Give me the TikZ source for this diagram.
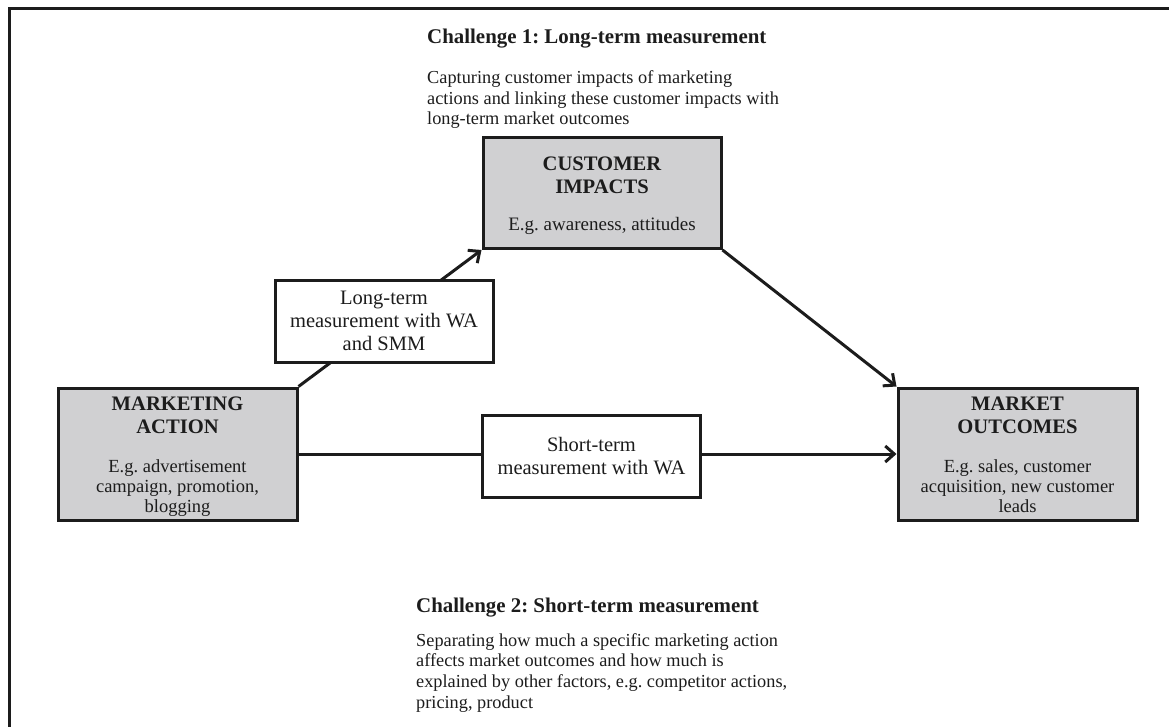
\documentclass[tikz,border=0pt]{standalone}
\usepackage{fontspec}
\setmainfont{Liberation Serif}
\usetikzlibrary{arrows.meta}
\definecolor{boxgray}{RGB}{208,208,210}
\definecolor{inkgray}{RGB}{28,28,28}
\frenchspacing
% bold title line inside a grey box
\newcommand\boxtitle[1]{{\fontsize{20.6}{20.6}\selectfont\bfseries #1}}
% invisible struts to fix the height of the first / depth of the last line
\newcommand\topstrut[1]{\rule{0pt}{#1}}
\newcommand\botstrut{\rule[-4pt]{0pt}{4pt}}
\begin{document}
\begin{tikzpicture}[x=1pt,y=-1pt,
  frameline/.style={line width=3pt, draw=inkgray},
  keybox/.style={draw=inkgray, line width=3pt, fill=boxgray, align=center,
    inner sep=0pt, text=inkgray, font=\fontsize{18.5}{20}\selectfont},
  linkbox/.style={draw=inkgray, line width=3pt, fill=white, align=center,
    inner sep=0pt, text=inkgray, font=\fontsize{20.5}{23}\selectfont},
  flow/.style={draw=inkgray, line width=3pt, -{Straight Barb[length=9pt,width=16pt]}},
  heading/.style={anchor=base west, inner sep=0pt, text=inkgray,
    font=\fontsize{20.9}{20.9}\selectfont\bfseries},
  note/.style={anchor=north west, align=left, inner sep=0pt, text=inkgray,
    font=\fontsize{18.3}{20.7}\selectfont}]
\useasboundingbox (0,0) rectangle (1169,726);

% outer frame (top and left edges)
\begin{scope}
  \clip (0,0) rectangle (1169,726);
  \draw[frameline] (9.5,740) -- (9.5,8.5) -- (1180,8.5);
\end{scope}

% challenge texts
\node[heading] (ch1) at (427,43) {Challenge 1: Long-term measurement};
\node[note] (ch1txt) at (427,70.5) {Capturing customer impacts of marketing\\actions and linking these customer impacts with\\long-term market outcomes};
\node[heading] (ch2) at (416,612) {Challenge 2: Short-term measurement};
\node[note] (ch2txt) at (416,633) {Separating how much a specific marketing action\\affects market outcomes and how much is\\explained by other factors, e.g. competitor actions,\\pricing, product};

% main boxes
\node[keybox, minimum width=238pt, minimum height=111pt, font=\fontsize{19}{20}\selectfont] (impacts) at (602,193)
  {\topstrut{19.4pt}\boxtitle{CUSTOMER}\\[3pt]\boxtitle{IMPACTS}\\[17.5pt]E.g. awareness, attitudes\botstrut};
\node[keybox, minimum width=239pt, minimum height=132pt] (action) at (177.5,454)
  {\topstrut{18pt}\boxtitle{MARKETING}\\[3pt]\boxtitle{ACTION}\\[19pt]E.g. advertisement\\campaign, promotion,\\blogging\botstrut};
\node[keybox, minimum width=239pt, minimum height=132pt] (outcomes) at (1017.5,454)
  {\topstrut{18pt}\boxtitle{MARKET}\\[3pt]\boxtitle{OUTCOMES}\\[19pt]E.g. sales, customer\\acquisition, new customer\\leads\botstrut};

% connectors
\draw[flow] (action.north east) -- (impacts.south west);
\draw[flow] (impacts.south east) -- (outcomes.north west);
\draw[flow] (action.east) -- (outcomes.west);

% measurement boxes on top of the connectors
\node[linkbox, minimum width=218pt, minimum height=82pt] (longterm) at (384,321)
  {\topstrut{14pt}Long-term\\measurement with WA\\and SMM};
\node[linkbox, minimum width=218pt, minimum height=82pt, font=\fontsize{20.5}{22.3}\selectfont] (shortterm) at (591.5,456)
  {Short-term\\measurement with WA};
\end{tikzpicture}
\end{document}
